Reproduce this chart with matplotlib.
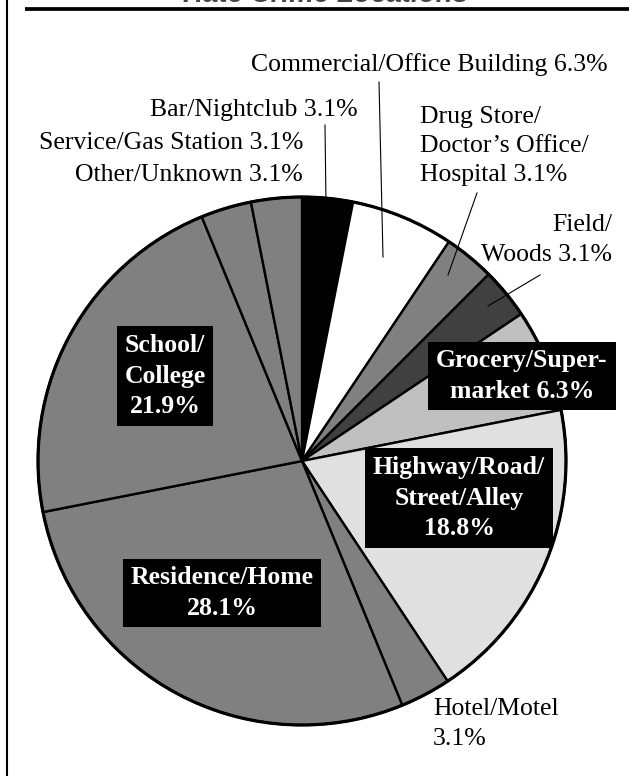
import matplotlib.pyplot as plt

# wedges, clockwise from 12 o'clock
names = ['Bar/Nightclub', 'Commercial/Office Building', 'Drug Store/\nDoctor\u2019s Office/\nHospital',
         'Field/\nWoods', 'Grocery/Super-\nmarket', 'Highway/Road/\nStreet/Alley\n', 'Hotel/Motel\n',
         'Residence/Home\n', 'School/\nCollege\n', 'Service/Gas Station', 'Other/Unknown']
values = [3.1, 6.3, 3.1, 3.1, 6.3, 18.8, 3.1, 28.1, 21.9, 3.1, 3.1]
colors = ['#000000', '#ffffff', '#808080', '#404040', '#c0c0c0', '#e0e0e0',
          '#808080', '#808080', '#808080', '#808080', '#808080']
boxed = [False, False, False, False, True, True, False, True, True, False, False]

W, H = 629, 776

def py(y):
    # pixel row (from top) -> data y
    return H - y

fig = plt.figure(figsize=(W / 100, H / 100), dpi=100)
ax = fig.add_axes([0, 0, 1, 1])

cx, cy, r = 302, 461, 264
ax.pie(values, colors=colors, startangle=90, counterclock=False,
       center=(cx, py(cy)), radius=r,
       wedgeprops=dict(edgecolor='black', linewidth=1.7))
ax.add_patch(plt.Circle((cx, py(cy)), r, fill=False, ec='black', lw=2.3))

ax.set_xlim(0, W)
ax.set_ylim(0, H)
ax.axis('off')

# label anchor (x, y in px) and alignment
pos = {
    'Bar/Nightclub': (358, 110, 'right'),
    'Commercial/Office Building': (608, 65, 'right'),
    'Drug Store/\nDoctor\u2019s Office/\nHospital': (420, 146, 'left'),
    'Field/\nWoods': (612, 240, 'right'),
    'Grocery/Super-\nmarket': (522, 376, 'center'),
    'Highway/Road/\nStreet/Alley\n': (459, 498, 'center'),
    'Hotel/Motel\n': (433, 724, 'left'),
    'Residence/Home\n': (222, 593, 'center'),
    'School/\nCollege\n': (165, 376, 'center'),
    'Service/Gas Station': (303, 143, 'right'),
    'Other/Unknown': (303, 175, 'right'),
}

serif = ['Liberation Serif', 'DejaVu Serif']
for n, v, b in zip(names, values, boxed):
    x, y, ha = pos[n]
    if n.endswith('\n'):
        txt = n + f'{v}%'
    else:
        txt = n + f' {v}%'
    if b:
        ax.text(x, py(y), txt, ha=ha, va='center', fontsize=18.5, family=serif,
                fontweight='bold', color='white', linespacing=1.42,
                bbox=dict(boxstyle='square,pad=0.3', fc='black', ec='none'))
    else:
        ax.text(x, py(y), txt, ha=ha, va='center', fontsize=18.5, family=serif,
                color='black', linespacing=1.42)

# leader lines
leaders = [((325, 125), (326, 205)),
           ((379, 82), (383, 257)),
           ((477, 193), (448, 275)),
           ((540, 275), (488, 306))]
for (x0, y0), (x1, y1) in leaders:
    ax.plot([x0, x1], [py(y0), py(y1)], color='black', lw=0.8)

# frame and clipped title
ax.plot([25, W], [py(9.2), py(9.2)], color='black', lw=2.7, solid_capstyle='butt')
ax.plot([7, 7], [0, H], color='black', lw=1.5)
ax.text(326, py(2), 'Hate Crime Locations', ha='center', va='baseline', fontsize=20,
        family=['Liberation Sans', 'DejaVu Sans'], fontweight='bold', fontstyle='italic',
        color='#444444')

fig.savefig('out.png', dpi=100)
